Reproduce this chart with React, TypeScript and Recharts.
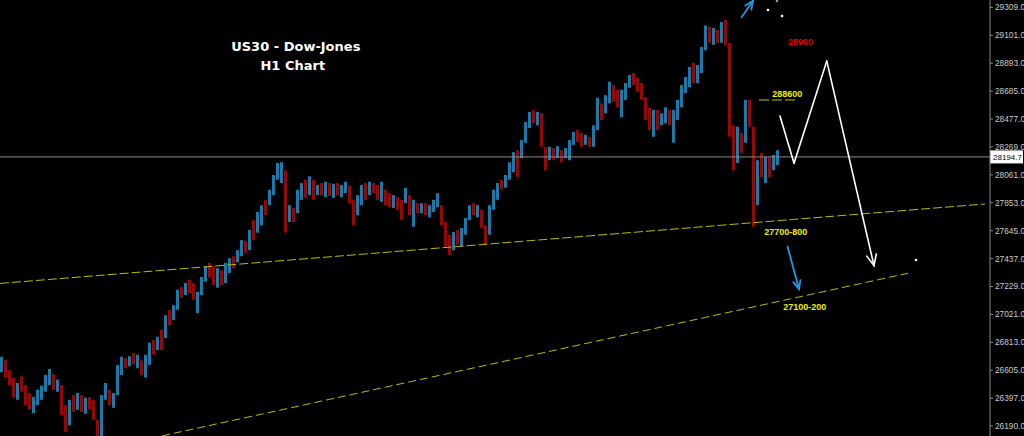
import React from "react";
import { ComposedChart, Bar, XAxis, YAxis, ReferenceLine, ReferenceDot, Label } from "recharts";

// H1 bars, one slot every 4px (oldest first)
const highs = [
  26705, 26680, 26605, 26550, 26510, 26560, 26495, 26435, 26405, 26460,
  26490, 26570, 26615, 26575, 26535, 26495, 26345, 26385, 26420, 26435,
  26420, 26400, 26405, 26385, 26235, 26420, 26510, 26460, 26435, 26645,
  26705, 26695, 26710, 26735, 26720, 26680, 26720, 26810, 26830, 26855,
  26905, 27015, 27055, 27090, 27205, 27225, 27255, 27280, 27255, 27190,
  27300, 27380, 27405, 27380, 27365, 27350, 27405, 27440, 27455, 27500,
  27575, 27570, 27650, 27725, 27785, 27835, 27875, 27950, 28060, 28150,
  28155, 28095, 27835, 27815, 27950, 28000, 28025, 28050, 28025, 27985,
  28000, 28010, 28000, 27995, 28000, 27985, 28010, 27980, 27875, 27910,
  27985, 28000, 28010, 28000, 27985, 28010, 27950, 27925, 27910, 27895,
  27875, 27965, 27910, 27875, 27850, 27850, 27850, 27835, 27875, 27925,
  27835, 27710, 27615, 27635, 27650, 27665, 27740, 27835, 27850, 27835,
  27800, 27685, 27835, 27950, 28000, 28025, 28060, 28155, 28230, 28245,
  28320, 28455, 28530, 28545, 28530, 28520, 28270, 28270, 28260, 28275,
  28245, 28260, 28320, 28380, 28395, 28375, 28360, 28345, 28430, 28635,
  28595, 28655, 28755, 28730, 28695, 28695, 28745, 28805, 28820, 28785,
  28745, 28640, 28560, 28545, 28545, 28520, 28565, 28545, 28545, 28620,
  28730, 28790, 28865, 28895, 28880, 29015, 29175, 29165, 29155, 29140,
  29200, 29215, 29045, 28430, 28420, 28375, 28620, 28620, 28420, 28170,
  28225, 28195, 28195, 28210, 28245,
];

const lows = [
  26590, 26550, 26495, 26400, 26385, 26445, 26345, 26310, 26285, 26345,
  26385, 26445, 26495, 26460, 26445, 26270, 26145, 26195, 26295, 26310,
  26295, 26280, 26310, 26235, 26085, 26115, 26385, 26345, 26325, 26420,
  26570, 26620, 26635, 26650, 26620, 26570, 26550, 26645, 26720, 26755,
  26755, 26845, 26940, 26980, 27055, 27145, 27165, 27180, 27130, 27030,
  27165, 27265, 27295, 27240, 27220, 27235, 27255, 27330, 27365, 27410,
  27455, 27480, 27500, 27575, 27630, 27685, 27760, 27835, 27910, 28025,
  28000, 27630, 27710, 27710, 27775, 27875, 27890, 27910, 27875, 27910,
  27910, 27895, 27905, 27890, 27910, 27895, 27925, 27850, 27685, 27760,
  27835, 27875, 27910, 27925, 27875, 27860, 27835, 27820, 27815, 27800,
  27725, 27850, 27760, 27675, 27775, 27775, 27760, 27745, 27785, 27820,
  27685, 27525, 27465, 27500, 27540, 27525, 27615, 27725, 27760, 27745,
  27665, 27540, 27615, 27800, 27875, 27950, 27965, 28025, 28080, 28045,
  28185, 28300, 28410, 28445, 28430, 28270, 28095, 28170, 28170, 28185,
  28155, 28185, 28170, 28285, 28305, 28270, 28285, 28270, 28270, 28395,
  28470, 28520, 28595, 28605, 28565, 28490, 28620, 28710, 28730, 28680,
  28620, 28470, 28395, 28345, 28395, 28430, 28445, 28430, 28300, 28470,
  28565, 28670, 28715, 28745, 28745, 28820, 28990, 29045, 29030, 29045,
  29045, 29030, 28345, 28095, 28150, 28225, 28300, 28420, 27675, 27835,
  28045, 28000, 28045, 28095, 28135,
];

const closes = [
  26680, 26570, 26510, 26420, 26495, 26460, 26360, 26325, 26385, 26445,
  26460, 26550, 26590, 26495, 26510, 26295, 26195, 26345, 26325, 26400,
  26325, 26385, 26345, 26250, 26145, 26400, 26495, 26385, 26420, 26620,
  26680, 26645, 26695, 26665, 26695, 26590, 26695, 26795, 26755, 26830,
  26795, 26995, 26980, 27070, 27190, 27165, 27240, 27205, 27145, 27165,
  27280, 27365, 27315, 27265, 27335, 27255, 27380, 27410, 27390, 27485,
  27555, 27500, 27630, 27615, 27760, 27815, 27785, 27925, 28040, 28110,
  28135, 27665, 27740, 27725, 27925, 27965, 27910, 28025, 27895, 27965,
  27935, 27985, 27925, 27970, 27935, 27965, 27985, 27875, 27800, 27890,
  27965, 27910, 27985, 27950, 27890, 27985, 27875, 27850, 27890, 27820,
  27760, 27935, 27800, 27835, 27800, 27830, 27785, 27815, 27850, 27890,
  27725, 27575, 27540, 27605, 27560, 27635, 27710, 27815, 27785, 27800,
  27685, 27575, 27815, 27925, 27980, 27965, 28040, 28135, 28210, 28080,
  28300, 28430, 28505, 28470, 28505, 28285, 28230, 28245, 28195, 28245,
  28185, 28230, 28300, 28360, 28320, 28285, 28335, 28285, 28410, 28605,
  28505, 28635, 28730, 28635, 28590, 28655, 28725, 28790, 28770, 28710,
  28640, 28505, 28430, 28505, 28430, 28500, 28545, 28455, 28505, 28595,
  28710, 28770, 28840, 28785, 28855, 28990, 29140, 29065, 29125, 29065,
  29175, 29045, 28395, 28245, 28395, 28260, 28580, 28455, 27875, 28135,
  28095, 28170, 28080, 28170, 28194.7,
];

const priceTicks = [
  29309, 29101, 28893, 28685, 28477, 28269, 28061, 27853,
  27645, 27437, 27229, 27021, 26813, 26605, 26397, 26190,
];
const lastPrice = 28194.7;

// annotation anchors, [bar slot, price]
const upperTrend = [[0, 27252], [246.25, 27844]];
const lowerTrend = [[40.5, 26116], [227, 27328]];
const zigzag = [[195, 28500], [198.5, 28147], [206.7, 28909], [218.5, 27384]];
const blueUp = [[185.4, 29235], [188.25, 29358]];
const blueDown = [[196.9, 27525], [199.75, 27210]];
const level288 = [[189.75, 28619], [199.25, 28619]];
const dots = [
  [192, 29289, "#ffffff"],
  [195.5, 29245, "#ffffff"],
  [194.25, 29356, "#9a9a9a"],
  [229, 27427, "#ffffff"],
];
const notes = [
  { x: 73.95, y: 29016, text: "US30 - Dow-Jones", color: "#ffffff", size: 13, font: "DejaVu Sans" },
  { x: 73.2, y: 28879, text: "H1 Chart", color: "#ffffff", size: 13, font: "DejaVu Sans" },
  { x: 200.1, y: 29051, text: "28900", color: "#e00000", size: 9, font: "Liberation Sans" },
  { x: 196.8, y: 28666, text: "288600", color: "#f0f000", size: 9, font: "Liberation Sans" },
  { x: 196.45, y: 27640, text: "27700-800", color: "#f0f000", size: 9, font: "Liberation Sans" },
  { x: 201.2, y: 27075, text: "27100-200", color: "#f0f000", size: 9, font: "Liberation Sans" },
];

const BLUE = "#187cab";
const RED = "#960808";
const TREND = "#bdbd00";

const bars = highs.map((h, i) => ({
  x: i + 0.5,
  range: [lows[i], h],
  up: closes[i] >= (i > 0 ? closes[i - 1] : closes[i] - 1),
}));

const OhlcBar = (p: any) => {
  const top = Math.min(p.y, p.y + p.height);
  const h = Math.max(Math.abs(p.height), 1);
  return <rect x={p.x} y={top} width={p.width} height={h} fill={p.payload.up ? BLUE : RED} />;
};

const segShape = (color: string, w: number, head: number) => (p: any) => {
  const { x1, y1, x2, y2 } = p;
  const a = Math.atan2(y2 - y1, x2 - x1);
  const s = 0.42;
  const hx1 = x2 - head * Math.cos(a - s);
  const hy1 = y2 - head * Math.sin(a - s);
  const hx2 = x2 - head * Math.cos(a + s);
  const hy2 = y2 - head * Math.sin(a + s);
  return (
    <g stroke={color} strokeWidth={w} fill="none" strokeLinecap="round">
      <line x1={x1} y1={y1} x2={x2} y2={y2} />
      {head > 0 && <polyline points={`${hx1},${hy1} ${x2},${y2} ${hx2},${hy2}`} />}
    </g>
  );
};

const PriceTag = (props: any) => {
  const vb = props.viewBox || {};
  const x = (vb.x ?? 0) + (vb.width ?? 0);
  const y = vb.y ?? 0;
  return (
    <g>
      <rect x={x} y={y - 6.5} width={33} height={13} fill="#ffffff" />
      <text x={x + 3} y={y + 3} fontSize={8} fontFamily="Liberation Sans" fill="#000000">
        {lastPrice.toFixed(1)}
      </text>
    </g>
  );
};

const seg = (pts: number[][]) => [
  { x: pts[0][0], y: pts[0][1] },
  { x: pts[1][0], y: pts[1][1] },
];

export default function App() {
  return (
    <div style={{ position: "fixed", left: 0, top: 0, width: 1024, height: 436, background: "#000" }}>
      <ComposedChart width={1024} height={436} data={bars} margin={{ top: 0, right: 0, bottom: 0, left: 0 }}>
        <XAxis type="number" dataKey="x" domain={[0, 247.5]} hide allowDataOverflow />
        <YAxis
          orientation="right"
          width={34}
          domain={[26115, 29364]}
          allowDataOverflow
          ticks={priceTicks}
          interval={0}
          tickFormatter={(v: number) => v.toFixed(1)}
          tick={{ fill: "#cccccc", fontSize: 8.3, fontFamily: "Liberation Sans" }}
          axisLine={{ stroke: "#8a8a8a" }}
          tickLine={{ stroke: "#8a8a8a" }}
          tickSize={3}
        />
        <ReferenceLine y={lastPrice} stroke="#8c8c8c" ifOverflow="visible">
          <Label content={PriceTag} />
        </ReferenceLine>
        <ReferenceLine segment={seg(upperTrend)} stroke={TREND} strokeDasharray="9 3" ifOverflow="visible" />
        <ReferenceLine segment={seg(lowerTrend)} stroke={TREND} strokeDasharray="8 4" ifOverflow="visible" />
        <ReferenceLine segment={seg(level288)} stroke={TREND} strokeDasharray="10 3" ifOverflow="visible" />
        <Bar dataKey="range" barSize={3} isAnimationActive={false} shape={OhlcBar} />
        {zigzag.slice(1).map((pt, i) => (
          <ReferenceLine
            key={"z" + i}
            segment={seg([zigzag[i], pt])}
            ifOverflow="visible"
            shape={segShape("#ffffff", 1.6, i === zigzag.length - 2 ? 12 : 0)}
          />
        ))}
        <ReferenceLine segment={seg(blueUp)} ifOverflow="visible" shape={segShape("#1e9be6", 1.8, 9)} />
        <ReferenceLine segment={seg(blueDown)} ifOverflow="visible" shape={segShape("#1e9be6", 1.8, 9)} />
        {dots.map((d, i) => (
          <ReferenceDot key={"d" + i} x={d[0] as number} y={d[1] as number} r={1.3} fill={d[2] as string} stroke="none" ifOverflow="visible" />
        ))}
        {notes.map((n, i) => (
          <ReferenceDot key={"n" + i} x={n.x} y={n.y} r={0} stroke="none" fill="none" ifOverflow="visible">
            <Label
              value={n.text}
              position="center"
              fill={n.color}
              fontSize={n.size}
              fontWeight="bold"
              fontFamily={n.font}
            />
          </ReferenceDot>
        ))}
      </ComposedChart>
    </div>
  );
}
